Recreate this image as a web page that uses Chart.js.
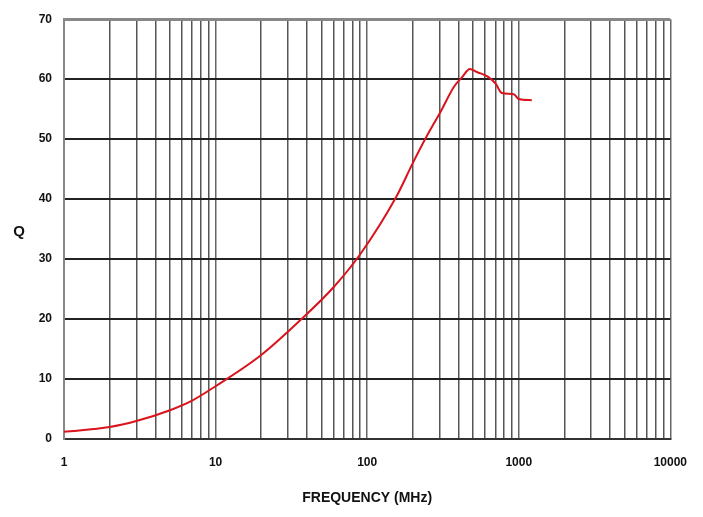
<!DOCTYPE html>
<html>
<head>
<meta charset="utf-8">
<script src="https://cdn.jsdelivr.net/npm/chart.js@4"></script>
<style>
  html, body { margin: 0; padding: 0; background: #fff; }
  #wrap { width: 703px; height: 517px; }
</style>
</head>
<body>
<div id="wrap"><canvas id="qChart" width="703" height="517"></canvas></div>
<script>
// Data (frequency in MHz, Q)
const freqMHz = [1, 2, 3, 5, 7, 10, 20, 38, 60, 90, 155, 200, 245, 307, 373, 422, 476, 530, 635, 706, 773, 927, 1000, 1220];
const qValues = [1.2, 2.0, 3.0, 4.8, 6.4, 8.8, 14.0, 20.3, 25.3, 30.8, 40.3, 46.0, 50.3, 54.7, 58.7, 60.3, 61.7, 61.2, 60.3, 59.2, 57.7, 57.5, 56.7, 56.5];

// Axis settings
const xMin = 1, xMax = 10000;
const yMin = 0, yMax = 70, yStep = 10;
const xTickLabels = ["1", "10", "100", "1000", "10000"];

// Log grid: 1..9 in every decade
function logGridTicks() {
  const ticks = [];
  for (let d = xMin; d < xMax; d *= 10) {
    for (let s = 1; s <= 9; s++) ticks.push({ value: s * d });
  }
  ticks.push({ value: xMax });
  return ticks;
}

// upright "Q" beside the y axis
const yLabelPlugin = {
  id: "yLabel",
  afterDraw(chart) {
    const ctx = chart.ctx;
    ctx.save();
    ctx.font = "bold 15px 'Liberation Sans', Arial, sans-serif";
    ctx.fillStyle = "#111";
    ctx.textAlign = "center";
    ctx.textBaseline = "middle";
    ctx.fillText("Q", 19, 232);
    ctx.restore();
  }
};

const ctx = document.getElementById("qChart").getContext("2d");
const chart = new Chart(ctx, {
  type: "line",
  data: {
    datasets: [{
      data: freqMHz.map((f, i) => ({ x: f, y: qValues[i] })),
      borderColor: "#d9141c",
      borderWidth: 2,
      pointRadius: 0,
      fill: false,
      cubicInterpolationMode: "monotone"
    }]
  },
  options: {
    responsive: false,
    animation: false,
    layout: { padding: { top: 19, right: 32, left: 0, bottom: 0 } },
    plugins: { legend: { display: false }, tooltip: { enabled: false } },
    scales: {
      x: {
        type: "logarithmic",
        min: xMin,
        max: xMax,
        afterBuildTicks: scale => { scale.ticks = logGridTicks(); },
        afterFit: scale => { scale.height = 78; },
        ticks: {
          autoSkip: false,
          maxRotation: 0,
          padding: 16,
          color: "#111",
          font: { family: "'Liberation Sans', Arial, sans-serif", size: 12, weight: "bold" },
          callback: v => {
            const s = String(v);
            return xTickLabels.includes(s) ? s : "";
          }
        },
        grid: {
          color: c => (xTickLabels.includes(String(c.tick && c.tick.value)) ? "#666" : "#555"),
          lineWidth: 1.5,
          drawTicks: false
        },
        border: { color: "#333", width: 2 },
        title: {
          display: true,
          text: "FREQUENCY (MHz)",
          color: "#111",
          font: { family: "'Liberation Sans', Arial, sans-serif", size: 14, weight: "bold" },
          padding: { top: 6, bottom: 10 }
        }
      },
      y: {
        min: yMin,
        max: yMax,
        afterFit: scale => { scale.width = 64; },
        ticks: {
          stepSize: yStep,
          padding: 12,
          color: "#111",
          font: { family: "'Liberation Sans', Arial, sans-serif", size: 12, weight: "bold" }
        },
        grid: {
          color: c => (c.tick && c.tick.value === yMax ? "#888" : "#222"),
          lineWidth: c => (c.tick && c.tick.value === yMax ? 3 : 2),
          drawTicks: false
        },
        border: { color: "#888", width: 2 }
      }
    }
  },
  plugins: [yLabelPlugin]
});
</script>
</body>
</html>
